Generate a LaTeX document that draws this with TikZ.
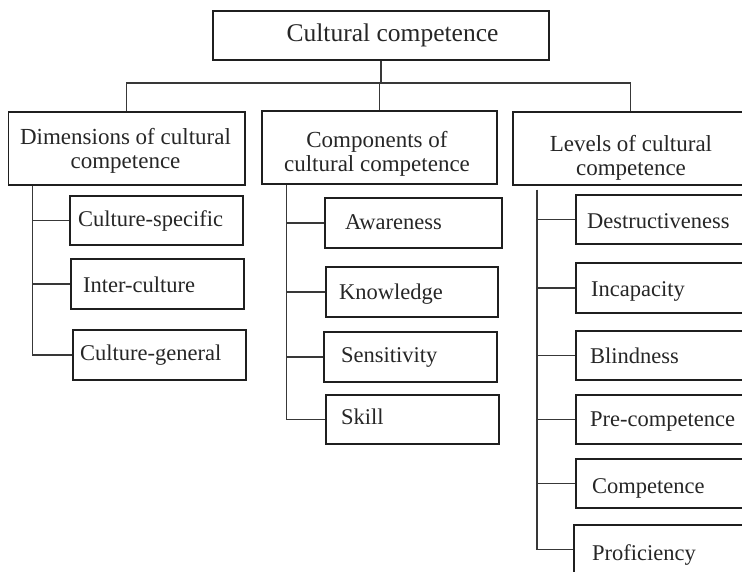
\documentclass[tikz,border=0pt]{standalone}
\usepackage{fontspec}
\setmainfont{Liberation Serif}
\usetikzlibrary{calc}
\begin{document}
\begin{tikzpicture}[x=1pt,y=-1pt,
  frame/.style={draw=black!88, line width=1.1pt, rectangle, inner sep=0pt},
  link/.style={draw=black!78, line width=1.1pt},
  toptext/.style={font=\fontsize{25.5}{28}\selectfont, inner sep=0pt, anchor=base, text=black!85},
  headtext/.style={font=\fontsize{23}{24}\selectfont, align=center, inner sep=0pt, text=black!85},
  leaftext/.style={font=\fontsize{22.5}{24}\selectfont, inner sep=0pt, anchor=base west, text=black!85}]
\useasboundingbox (0,0) rectangle (742,572);
\clip (0,0) rectangle (742,572);

% root and the three headings
\node[frame, minimum width=336pt, minimum height=49pt] (top) at (381,35.5) {};
\node[frame, minimum width=236.5pt, minimum height=73pt] (dim) at (126.75,148.5) {};
\node[frame, minimum width=235pt, minimum height=73pt] (comp) at (379.5,147.5) {};
\node[frame, minimum width=235pt, minimum height=73pt] (lev) at (630.5,148.5) {};

\node[toptext] (topt) at (392.5,41.5) {Cultural competence};
\node[headtext] (dimt) at (125.5,150.6) {Dimensions of cultural\\competence};
\node[headtext] (compt) at (377,153.6) {Components of\\cultural competence};
\node[headtext] (levt) at (631,157.6) {Levels of cultural\\competence};

% dimensions
\node[frame, minimum width=173pt, minimum height=49pt] (d1) at (156.5,220.5) {};
\node[frame, minimum width=173pt, minimum height=50pt] (d2) at (157.5,284) {};
\node[frame, minimum width=173pt, minimum height=50pt] (d3) at (159.5,355) {};
\node[leaftext] (d1t) at (78,227) {Culture-specific};
\node[leaftext] (d2t) at (83,292) {Inter-culture};
\node[leaftext] (d3t) at (80,360) {Culture-general};

% components
\node[frame, minimum width=177pt, minimum height=50pt] (c1) at (413.5,223) {};
\node[frame, minimum width=172pt, minimum height=50pt] (c2) at (412,292) {};
\node[frame, minimum width=173pt, minimum height=50pt] (c3) at (410.5,357) {};
\node[frame, minimum width=173pt, minimum height=49pt] (c4) at (412.5,419.5) {};
\node[leaftext] (c1t) at (345,230) {Awareness};
\node[leaftext] (c2t) at (339,299) {Knowledge};
\node[leaftext] (c3t) at (341,362) {Sensitivity};
\node[leaftext] (c4t) at (341,424) {Skill};

% levels
\node[frame, minimum width=174pt, minimum height=49pt] (l1) at (663,219.5) {};
\node[frame, minimum width=174pt, minimum height=50pt] (l2) at (663,288) {};
\node[frame, minimum width=174pt, minimum height=49pt] (l3) at (663,355.5) {};
\node[frame, minimum width=174pt, minimum height=49pt] (l4) at (663,419.5) {};
\node[frame, minimum width=174pt, minimum height=49pt] (l5) at (663,483.5) {};
\node[frame, minimum width=174pt, minimum height=49pt] (l6) at (661,549.5) {};
\node[leaftext] (l1t) at (587,229) {Destructiveness};
\node[leaftext] (l2t) at (591,297) {Incapacity};
\node[leaftext] (l3t) at (590,363) {Blindness};
\node[leaftext] (l4t) at (590,426) {Pre-competence};
\node[leaftext] (l5t) at (592,493) {Competence};
\node[leaftext] (l6t) at (592,560) {Proficiency};

% root to headings
\coordinate (bus) at (380,83);
\draw[link] (top.south) -- (top.south |- bus);
\draw[link] (dim.north) |- (bus) -| (lev.north);
\draw[link] (comp.north) -- (comp.north |- bus);

% headings to their items
\coordinate (dimS) at ($(dim.south west)+(24.5,0)$);
\draw[link] (dimS) |- (d3.west);
\foreach \n in {d1,d2} \draw[link] (dimS |- \n.west) -- (\n.west);

\coordinate (compS) at ($(comp.south west)+(25,0)$);
\draw[link] (compS) |- (c4.west);
\foreach \n in {c1,c2,c3} \draw[link] (compS |- \n.west) -- (\n.west);

\coordinate (levS) at ($(lev.south west)+(24.5,4)$);
\draw[link] (levS) |- (l6.west);
\foreach \n in {l1,l2,l3,l4,l5} \draw[link] (levS |- \n.west) -- (\n.west);
\end{tikzpicture}
\end{document}
